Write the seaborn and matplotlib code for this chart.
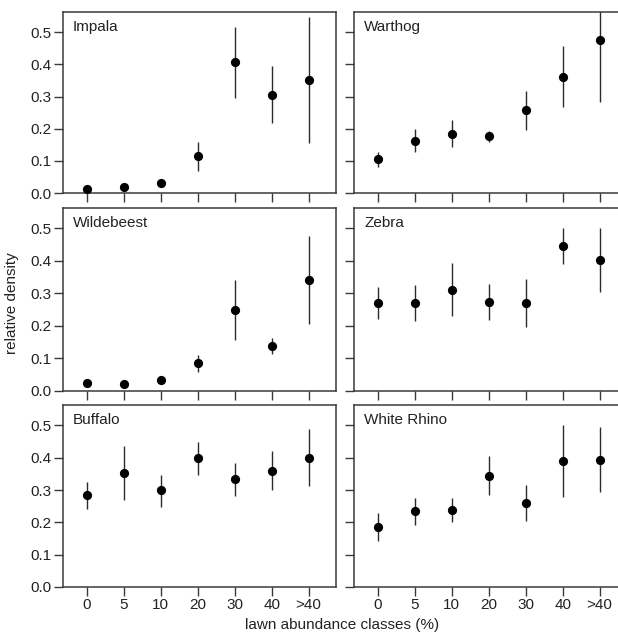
import numpy as np
import pandas as pd
import matplotlib
matplotlib.use("Agg")
import matplotlib.pyplot as plt
import seaborn as sns

classes = ["0", "5", "10", "20", "30", "40", ">40"]
species = ["Impala", "Warthog", "Wildebeest", "Zebra", "Buffalo", "White Rhino"]

impala = [0.012, 0.019, 0.030, 0.114, 0.406, 0.306, 0.351]
impala_lo = [0.005, 0.012, 0.022, 0.067, 0.297, 0.217, 0.155]
impala_hi = [0.019, 0.026, 0.038, 0.159, 0.516, 0.395, 0.549]

warthog = [0.105, 0.163, 0.184, 0.177, 0.258, 0.362, 0.475]
warthog_lo = [0.082, 0.126, 0.142, 0.160, 0.197, 0.267, 0.284]
warthog_hi = [0.127, 0.200, 0.226, 0.194, 0.318, 0.458, 0.600]

wildebeest = [0.026, 0.021, 0.033, 0.085, 0.249, 0.138, 0.341]
wildebeest_lo = [0.020, 0.015, 0.026, 0.057, 0.158, 0.114, 0.207]
wildebeest_hi = [0.032, 0.027, 0.040, 0.112, 0.341, 0.163, 0.478]

zebra = [0.270, 0.270, 0.312, 0.273, 0.271, 0.447, 0.404]
zebra_lo = [0.223, 0.214, 0.231, 0.218, 0.197, 0.392, 0.304]
zebra_hi = [0.320, 0.326, 0.394, 0.329, 0.346, 0.502, 0.502]

buffalo = [0.285, 0.353, 0.299, 0.398, 0.333, 0.360, 0.400]
buffalo_lo = [0.242, 0.268, 0.246, 0.346, 0.280, 0.299, 0.311]
buffalo_hi = [0.326, 0.436, 0.348, 0.448, 0.384, 0.420, 0.488]

rhino = [0.187, 0.235, 0.237, 0.344, 0.261, 0.390, 0.393]
rhino_lo = [0.143, 0.193, 0.200, 0.285, 0.205, 0.279, 0.293]
rhino_hi = [0.228, 0.276, 0.274, 0.404, 0.315, 0.500, 0.494]

yticks = [0.0, 0.1, 0.2, 0.3, 0.4, 0.5]
ytick_labels = ["0.0", "0.1", "0.2", "0.3", "0.4", "0.5"]

series = {
    "Impala": (impala, impala_lo, impala_hi),
    "Warthog": (warthog, warthog_lo, warthog_hi),
    "Wildebeest": (wildebeest, wildebeest_lo, wildebeest_hi),
    "Zebra": (zebra, zebra_lo, zebra_hi),
    "Buffalo": (buffalo, buffalo_lo, buffalo_hi),
    "White Rhino": (rhino, rhino_lo, rhino_hi),
}

sns.set_style("ticks")
plt.rcParams["font.family"] = ["Liberation Sans", "DejaVu Sans"]
FS = 11.0
spine_col = "#3a3a3a"

fig = plt.figure(figsize=(6.18, 6.33), dpi=100)
W, H = 618.0, 633.0
col_left = [63, 354]
ax_w = 273
rows = [(12, 193), (208, 391), (405, 587)]

for i, sp in enumerate(species):
    r, c = divmod(i, 2)
    top, bot = rows[r]
    ax = fig.add_axes([col_left[c] / W, 1 - bot / H, ax_w / W, (bot - top) / H])
    vals, lo, hi = series[sp]
    df = pd.DataFrame({"cls": classes, "val": vals, "lo": lo, "hi": hi})
    ax.vlines(np.arange(len(classes)), df["lo"], df["hi"], color="#2b2b2b", lw=1.0, zorder=2)
    sns.scatterplot(data=df, x=np.arange(len(classes)), y="val", ax=ax, color="black",
                    s=44, edgecolor="black", linewidth=0, zorder=3, legend=False)
    ax.set_xlim(-0.64, 6.74)
    ax.set_ylim(0, 0.563)
    ax.set_xticks(np.arange(len(classes)))
    ax.set_yticks(yticks)
    if r == 2:
        ax.set_xticklabels(classes, fontsize=FS)
    else:
        ax.set_xticklabels([])
    if c == 0:
        ax.set_yticklabels(ytick_labels, fontsize=FS)
    else:
        ax.set_yticklabels([])
    ax.set_xlabel("")
    ax.set_ylabel("")
    for s in ax.spines.values():
        s.set_visible(True)
        s.set_color(spine_col)
        s.set_linewidth(1.1)
    ax.tick_params(direction="out", length=6.2, width=1.0, color=spine_col,
                   labelcolor="#222222", pad=2.0)
    ax.text(0.037, 0.955, sp, transform=ax.transAxes, ha="left", va="top",
            fontsize=FS, color="#222222")

fig.text(0.019, 1 - 303 / H, "relative density", rotation=90, ha="center", va="center",
         fontsize=FS, color="#222222")
fig.text(342 / W, 1 - 625 / H, "lawn abundance classes (%)", ha="center", va="center",
         fontsize=FS, color="#222222")

fig.savefig("out.png", dpi=100)
